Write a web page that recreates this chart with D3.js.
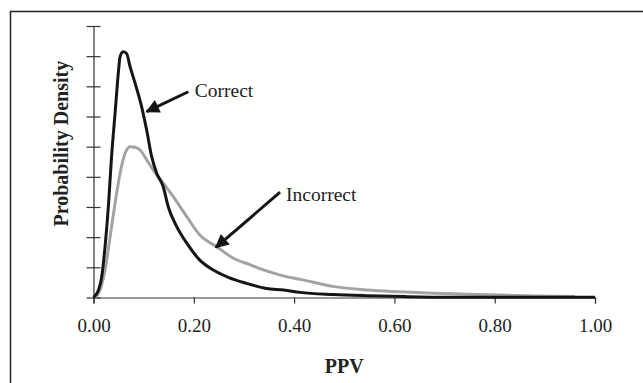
<!DOCTYPE html>
<html>
<head>
<meta charset="utf-8">
<script src="https://cdn.jsdelivr.net/npm/d3@7"></script>
<style>
  body { margin: 0; background: #fff; }
  svg { display: block; }
  text { font-family: "Liberation Serif", "Times New Roman", serif; fill: #222; }
</style>
</head>
<body>
<svg id="chart" width="643" height="383"></svg>
<script>
// PPV values and densities
var correctX = [0, 0.01, 0.016, 0.023, 0.03, 0.036, 0.043, 0.05, 0.053, 0.059, 0.066, 0.073, 0.083, 0.096, 0.106, 0.116, 0.126, 0.139, 0.149, 0.166, 0.186, 0.212, 0.239, 0.27, 0.305, 0.345, 0.379, 0.412, 0.478, 0.545, 0.62, 0.711, 0.8, 0.9, 1.0];
var correctY = [0, 0.25, 0.65, 1.68, 3.1, 4.67, 6.1, 7.54, 7.98, 8.15, 8.09, 7.65, 7.1, 6.32, 5.55, 4.67, 4.12, 3.67, 3.01, 2.35, 1.8, 1.24, 0.91, 0.66, 0.47, 0.3, 0.25, 0.17, 0.1, 0.06, 0.03, 0.01, 0.01, 0.01, 0.01];

var incorrectX = [0.003, 0.013, 0.023, 0.033, 0.043, 0.053, 0.063, 0.073, 0.083, 0.093, 0.106, 0.119, 0.139, 0.159, 0.186, 0.212, 0.246, 0.279, 0.313, 0.345, 0.38, 0.413, 0.48, 0.545, 0.61, 0.678, 0.745, 0.81, 0.88, 0.96];
var incorrectY = [0, 0.25, 0.91, 2.0, 3.12, 4.12, 4.78, 5.0, 4.98, 4.89, 4.56, 4.23, 3.79, 3.34, 2.68, 2.07, 1.68, 1.3, 1.08, 0.88, 0.71, 0.6, 0.36, 0.25, 0.19, 0.14, 0.11, 0.08, 0.05, 0.03];

var xTicks = [0, 0.2, 0.4, 0.6, 0.8, 1.0];
var yTicks = [0, 1, 2, 3, 4, 5, 6, 7, 8, 9];

// arrow annotations: [label, tipX, tipY, tailX, tailY, textX, textY] in data units
var notes = [
  ['Correct', 0.106, 6.16, 0.189, 6.82, 0.202, 6.65],
  ['Incorrect', 0.244, 1.66, 0.372, 3.49, 0.384, 3.21]
];

var margin = { top: 26, left: 93.5, right: 48, bottom: 85.5 };
var svg = d3.select('#chart');
var width = +svg.attr('width') - margin.left - margin.right;
var height = +svg.attr('height') - margin.top - margin.bottom;

// outer frame (runs off the right and bottom edges)
svg.append('rect')
  .attr('x', 10.5).attr('y', 11.5)
  .attr('width', 660).attr('height', 400)
  .style('fill', 'none').style('stroke', '#222').style('stroke-width', 1.5);

var g = svg.append('g')
  .attr('transform', 'translate(' + [margin.left, margin.top] + ')');

var xScale = d3.scaleLinear().domain([0, 1]).range([0, width]);
var yScale = d3.scaleLinear().domain([0, 9]).range([height, 0]);

// axes
var xAxis = g.append('g')
  .attr('class', 'x axis')
  .attr('transform', 'translate(0,' + height + ')')
  .call(d3.axisBottom(xScale).tickValues(xTicks).tickFormat(d3.format('.2f')).tickSize(6).tickPadding(15));
xAxis.selectAll('text').style('font-size', '19px').style('font-family', '"Liberation Serif", serif');

var yAxis = g.append('g')
  .attr('class', 'y axis')
  .call(d3.axisLeft(yScale).tickValues(yTicks).tickFormat('').tickSize(0));
yAxis.selectAll('.tick line')
  .attr('x1', -7).attr('x2', 7);

svg.selectAll('.axis path, .axis line')
  .style('stroke', '#333').style('stroke-width', 1.2);

// axis titles
g.append('text')
  .attr('x', width / 2).attr('y', height + 75)
  .attr('text-anchor', 'middle')
  .style('font-size', '20px').style('font-weight', 'bold')
  .text('PPV');

g.append('text')
  .attr('transform', 'translate(' + [-26, yScale(5.1)] + ') rotate(-90)')
  .attr('text-anchor', 'middle')
  .style('font-size', '20px').style('font-weight', 'bold')
  .text('Probability Density');

// curves
var line = d3.line()
  .x(function(d) { return xScale(d[0]); })
  .y(function(d) { return yScale(d[1]); })
  .curve(d3.curveMonotoneX);

g.append('path')
  .datum(d3.zip(incorrectX, incorrectY))
  .attr('d', line)
  .style('fill', 'none').style('stroke', '#a3a3a3').style('stroke-width', 3);

g.append('path')
  .datum(d3.zip(correctX, correctY))
  .attr('d', line)
  .style('fill', 'none').style('stroke', '#151515').style('stroke-width', 3);

// arrows
svg.append('defs').append('marker')
  .attr('id', 'head')
  .attr('viewBox', '0 0 10 10')
  .attr('refX', 9).attr('refY', 5)
  .attr('markerWidth', 5.5).attr('markerHeight', 4.6)
  .attr('markerUnits', 'strokeWidth')
  .attr('orient', 'auto')
  .append('path')
  .attr('d', 'M0,0 L10,5 L0,10 Z')
  .style('fill', '#151515');

notes.forEach(function(n) {
  g.append('line')
    .attr('x1', xScale(n[3])).attr('y1', yScale(n[4]))
    .attr('x2', xScale(n[1])).attr('y2', yScale(n[2]))
    .attr('marker-end', 'url(#head)')
    .style('stroke', '#151515').style('stroke-width', 3);
  g.append('text')
    .attr('x', xScale(n[5])).attr('y', yScale(n[6]))
    .style('font-size', '19.5px')
    .text(n[0]);
});
</script>
</body>
</html>
